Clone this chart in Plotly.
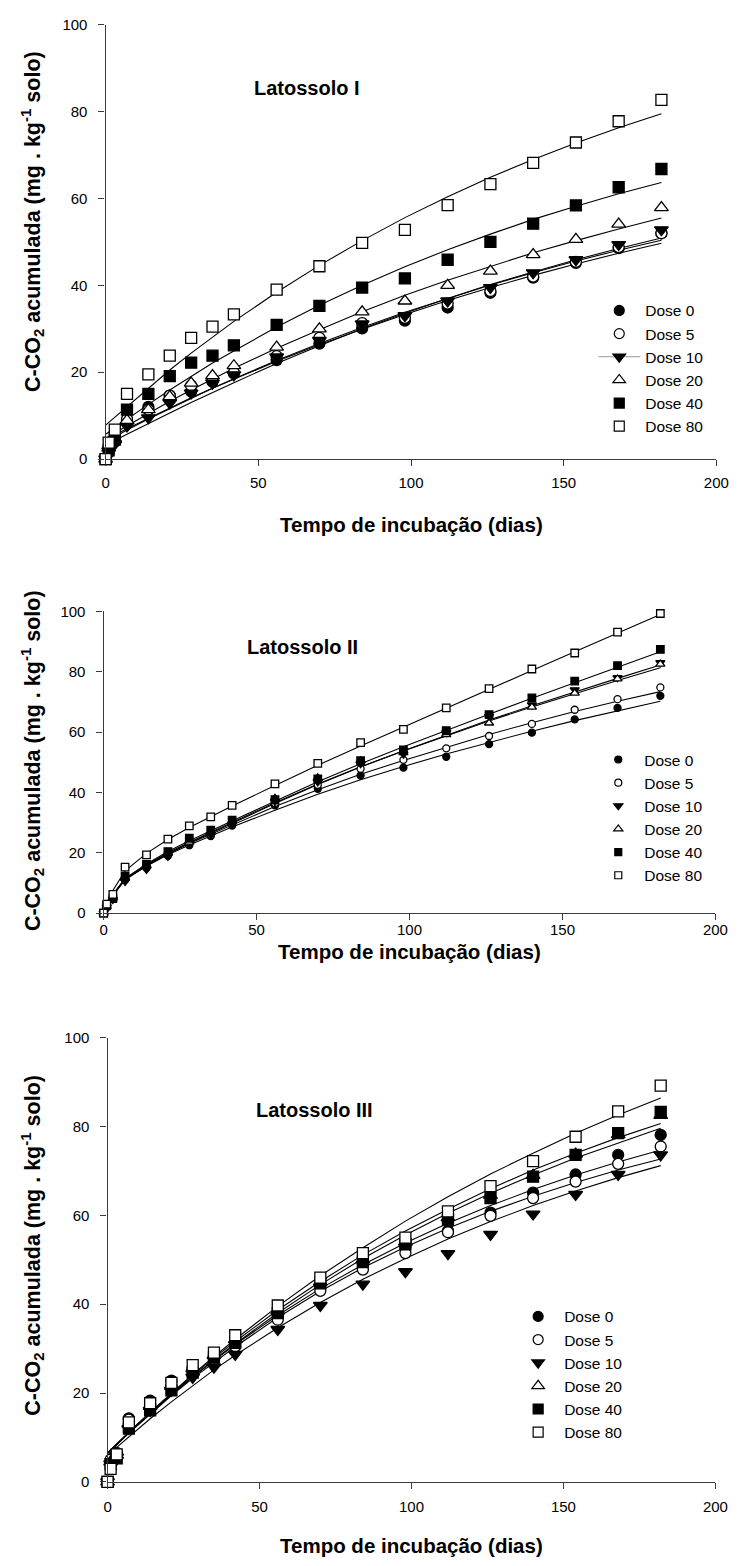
import plotly.graph_objects as go

W, H = 746, 1566

# ---------------- data ----------------
T = [0, 1, 3, 7, 14, 21, 28, 35, 42, 56, 70, 84, 98, 112, 126, 140, 154, 168, 182]
DOSES = ["Dose 0", "Dose 5", "Dose 10", "Dose 20", "Dose 40", "Dose 80"]

# Latossolo I - observed
L1_D0 = [0, 2.5, 4.0, 9.0, 12.0, 14.6, 15.6, 17.8, 19.7, 22.8, 26.6, 30.1, 31.9, 34.9, 38.3, 41.8, 45.2, 48.6, 52.0]
L1_D5 = [0, 2.8, 4.8, 9.2, 11.4, 14.6, 16.9, 18.0, 19.9, 23.7, 27.9, 31.3, 32.5, 35.8, 38.7, 42.0, 45.4, 48.8, 52.0]
L1_D10 = [0, 1.8, 3.5, 7.6, 9.5, 12.9, 15.2, 17.5, 19.4, 23.5, 27.3, 31.1, 33.0, 36.4, 39.5, 42.9, 45.9, 49.4, 52.8]
L1_D20 = [0, 2.5, 4.5, 8.9, 11.4, 14.4, 17.5, 19.2, 21.5, 25.8, 30.0, 33.9, 36.4, 40.0, 43.3, 47.1, 50.6, 54.1, 57.9]
L1_D40 = [0, 2.0, 4.5, 11.4, 15.0, 19.1, 22.2, 23.8, 26.2, 30.9, 35.3, 39.5, 41.6, 45.9, 50.0, 54.2, 58.4, 62.6, 66.8]
L1_D80 = [0, 3.8, 6.8, 15.0, 19.5, 23.8, 27.9, 30.5, 33.3, 39.0, 44.4, 49.8, 52.8, 58.5, 63.3, 68.2, 72.9, 77.8, 82.7]
# Latossolo I - fitted curves
L1_F0 = [4.5, 4.9, 5.6, 7.0, 9.4, 11.8, 14.1, 16.3, 18.4, 22.5, 26.3, 29.9, 33.3, 36.5, 39.5, 42.3, 44.9, 47.4, 49.7]
L1_F5 = [4.0, 4.4, 5.2, 6.7, 9.2, 11.6, 14.0, 16.3, 18.5, 22.7, 26.6, 30.3, 33.8, 37.0, 40.1, 42.9, 45.6, 48.1, 50.4]
L1_F10 = [3.3, 3.6, 4.3, 5.7, 8.2, 10.6, 13.0, 15.3, 17.6, 22.0, 26.1, 30.0, 33.6, 37.0, 40.2, 43.1, 45.9, 48.5, 50.9]
L1_F20 = [4.8, 5.2, 6.1, 7.7, 10.5, 13.3, 15.9, 18.4, 20.9, 25.5, 29.8, 33.9, 37.7, 41.2, 44.4, 47.5, 50.3, 53.0, 55.5]
L1_F40 = [5.7, 6.2, 7.2, 9.2, 12.6, 15.9, 19.1, 22.1, 24.9, 30.4, 35.4, 40.0, 44.3, 48.2, 51.8, 55.2, 58.2, 61.1, 63.7]
L1_F80 = [7.8, 8.4, 9.7, 12.2, 16.4, 20.5, 24.4, 28.1, 31.7, 38.4, 44.6, 50.3, 55.6, 60.4, 64.9, 69.0, 72.8, 76.3, 79.5]

# Latossolo II - observed
L2_D0 = [0, 2.0, 5.0, 11.0, 15.0, 19.0, 22.5, 25.5, 29.0, 35.7, 41.2, 45.6, 48.2, 51.8, 56.0, 59.8, 64.2, 68.0, 72.0]
L2_D5 = [0, 2.0, 5.0, 11.5, 15.5, 19.5, 23.0, 26.0, 29.5, 36.5, 42.5, 47.8, 50.8, 54.6, 58.7, 62.7, 67.4, 70.9, 74.8]
L2_D10 = [0, 2.0, 4.5, 10.5, 14.5, 18.8, 22.8, 26.0, 29.5, 37.0, 43.5, 49.5, 52.7, 59.8, 65.2, 69.0, 74.0, 78.0, 83.0]
L2_D20 = [0, 2.2, 5.0, 11.5, 15.8, 20.0, 23.5, 26.8, 30.5, 38.0, 44.8, 50.5, 53.2, 59.2, 63.0, 68.3, 72.9, 77.6, 82.5]
L2_D40 = [0, 2.4, 4.8, 12.2, 16.1, 20.4, 24.8, 27.5, 30.8, 37.6, 44.5, 50.5, 54.1, 60.5, 65.8, 71.3, 76.9, 82.0, 87.4]
L2_D80 = [0, 3.0, 6.2, 15.2, 19.3, 24.5, 28.9, 31.9, 35.7, 42.8, 49.6, 56.5, 60.9, 68.0, 74.4, 80.9, 86.2, 93.1, 99.3]
# Latossolo II - fitted curves
L2_F0 = [0.3, 2.7, 6.0, 11.2, 15.6, 19.3, 22.6, 25.6, 28.5, 34.1, 39.4, 44.2, 48.6, 52.7, 56.6, 60.3, 63.8, 67.1, 70.2]
L2_F5 = [0.3, 2.7, 6.0, 11.3, 15.8, 19.7, 23.1, 26.2, 29.2, 35.3, 40.9, 46.0, 50.6, 55.0, 59.2, 63.1, 66.8, 70.2, 73.4]
L2_F10 = [0.3, 2.6, 5.8, 11.0, 15.6, 19.6, 23.2, 26.5, 29.8, 36.3, 42.6, 48.4, 53.8, 59.0, 64.0, 68.7, 73.3, 77.8, 82.2]
L2_F20 = [0.3, 2.7, 6.0, 11.3, 16.0, 20.0, 23.5, 26.8, 30.0, 36.6, 42.8, 48.5, 53.7, 58.8, 63.7, 68.3, 72.8, 77.1, 81.3]
L2_F40 = [0.3, 2.8, 6.2, 11.5, 16.3, 20.4, 24.0, 27.3, 30.5, 37.1, 43.5, 49.5, 55.1, 60.6, 65.9, 71.2, 76.4, 81.5, 86.6]
L2_F80 = [0.3, 3.3, 7.5, 14.0, 19.8, 24.4, 28.4, 32.0, 35.5, 42.3, 49.0, 55.4, 61.7, 67.9, 74.1, 80.4, 86.6, 92.8, 99.0]

# Latossolo III - observed
L3_D0 = [0, 4.5, 6.5, 14.3, 18.3, 22.8, 25.2, 28.5, 31.5, 37.7, 44.3, 49.0, 53.0, 56.5, 60.6, 65.1, 69.2, 73.6, 78.1]
L3_D5 = [0, 5.0, 6.0, 14.0, 17.5, 21.5, 24.5, 27.5, 30.5, 36.5, 43.0, 47.8, 51.5, 56.2, 59.9, 63.9, 67.6, 71.6, 75.5]
L3_D10 = [0, 4.0, 5.5, 12.0, 16.1, 20.6, 23.5, 25.8, 28.7, 34.3, 39.7, 44.5, 47.3, 51.4, 55.7, 60.3, 64.7, 69.2, 73.6]
L3_D20 = [0, 4.5, 6.0, 13.0, 17.0, 21.5, 25.5, 28.5, 32.0, 38.5, 45.0, 50.0, 54.0, 59.5, 64.5, 69.0, 73.8, 78.2, 82.5]
L3_D40 = [0, 4.0, 5.3, 12.0, 16.1, 20.6, 24.6, 28.0, 31.3, 38.0, 44.7, 49.5, 53.5, 59.0, 63.9, 68.7, 73.6, 78.5, 83.3]
L3_D80 = [0, 2.9, 6.2, 13.4, 17.7, 22.3, 26.3, 29.1, 33.0, 39.7, 46.0, 51.5, 55.0, 60.9, 66.6, 72.2, 77.7, 83.4, 89.2]
# Latossolo III - fitted curves
L3_F0 = [6.5, 7.2, 8.5, 11.1, 15.5, 19.6, 23.6, 27.3, 30.9, 37.5, 43.5, 48.9, 53.8, 58.2, 62.2, 65.8, 69.1, 72.0, 74.7]
L3_F5 = [6.5, 7.1, 8.4, 11.0, 15.3, 19.4, 23.3, 26.9, 30.4, 37.0, 42.9, 48.2, 52.9, 57.1, 60.9, 64.3, 67.4, 70.2, 72.7]
L3_F10 = [6.0, 6.6, 7.8, 10.2, 14.2, 18.0, 21.7, 25.2, 28.5, 34.7, 40.4, 45.6, 50.3, 54.7, 58.6, 62.2, 65.5, 68.5, 71.2]
L3_F20 = [6.3, 7.0, 8.3, 11.0, 15.3, 19.6, 23.6, 27.5, 31.1, 38.0, 44.4, 50.3, 55.6, 60.5, 65.0, 69.1, 72.9, 76.3, 79.6]
L3_F40 = [6.5, 7.2, 8.5, 11.2, 15.6, 19.9, 24.0, 27.9, 31.6, 38.7, 45.1, 51.1, 56.5, 61.4, 66.0, 70.2, 74.0, 77.5, 80.7]
L3_F80 = [6.5, 7.2, 8.5, 11.2, 15.7, 20.0, 24.2, 28.2, 32.1, 39.5, 46.4, 52.7, 58.7, 64.2, 69.3, 74.0, 78.5, 82.6, 86.4]

TITLES = ["Latossolo I", "Latossolo II", "Latossolo III"]
X_TICKS = [0, 50, 100, 150, 200]
Y_TICKS = [0, 20, 40, 60, 80, 100]
X_TITLE = "Tempo de incubação (dias)"
Y_TITLE = "C-CO<sub>2</sub> acumulada (mg . kg<sup>-1</sup> solo)"

# ---------------- styling ----------------
FONT = "Arial, Liberation Sans, sans-serif"
SYMBOLS = ["circle", "circle", "triangle-down", "triangle-up", "square", "square"]
FILLS = ["black", "white", "black", "white", "black", "white"]

panels = [
    dict(obs=[L1_D0, L1_D5, L1_D10, L1_D20, L1_D40, L1_D80],
         fit=[L1_F0, L1_F5, L1_F10, L1_F20, L1_F40, L1_F80],
         xpx=(104, 729), ypx=(455, 16), msize=[11, 11, 12, 12, 11, 11], lsize=[10, 10, 11, 11, 10, 10],
         title_xy=(310, 80), xtitle_y=521, ytitle_y=215, xstand=4,
         legend=(603, 288)),
    dict(obs=[L2_D0, L2_D5, L2_D10, L2_D20, L2_D40, L2_D80],
         fit=[L2_F0, L2_F5, L2_F10, L2_F20, L2_F40, L2_F80],
         xpx=(102, 728), ypx=(914, 609), msize=[7, 7, 8, 8, 7.5, 7.5], lsize=[7, 7, 8, 8, 7, 7],
         title_xy=(305, 645), xtitle_y=953, ytitle_y=760, xstand=-3,
         legend=(602, 742)),
    dict(obs=[L3_D0, L3_D5, L3_D10, L3_D20, L3_D40, L3_D80],
         fit=[L3_F0, L3_F5, L3_F10, L3_F20, L3_F40, L3_F80],
         xpx=(106, 728), ypx=(1489, 1040), msize=[11, 11, 12, 12, 11, 11], lsize=[10, 10, 11, 11, 10, 10],
         title_xy=(318, 1113), xtitle_y=1553, ytitle_y=1250, xstand=5,
         legend=(520, 1305)),
]

fig = go.Figure()
annotations = []
layout_axes = {}

for i, p in enumerate(panels):
    n = "" if i == 0 else str(i + 1)
    xa, ya = "x" + n, "y" + n
    leg = "legend" + n
    # fitted lines
    for f in p["fit"]:
        fig.add_trace(go.Scatter(x=T, y=f, mode="lines", xaxis=xa, yaxis=ya,
                                 line=dict(color="black", width=1.1), showlegend=False,
                                 hoverinfo="skip", cliponaxis=False))
    # observed points
    for k, o in enumerate(p["obs"]):
        fig.add_trace(go.Scatter(x=T, y=o, mode="markers", xaxis=xa, yaxis=ya, name=DOSES[k],
                                 marker=dict(symbol=SYMBOLS[k], size=p["msize"][k], color=FILLS[k],
                                             line=dict(color="black", width=1.3)),
                                 showlegend=False, cliponaxis=False))
    # legend entries
    for k in range(6):
        mode = "markers"
        extra = {}
        if i == 0 and k == 2:
            mode = "lines+markers"
            extra = dict(line=dict(color="#9a9a9a", width=1))
        fig.add_trace(go.Scatter(x=[None], y=[None], mode=mode, xaxis=xa, yaxis=ya, name=DOSES[k],
                                 marker=dict(symbol=SYMBOLS[k], size=p["lsize"][k], color=FILLS[k],
                                             line=dict(color="black", width=1.2)),
                                 legend=leg, showlegend=True, **extra))
    x0, x1 = p["xpx"]
    yb, yt = p["ypx"]
    axstyle = dict(showline=True, linecolor="#3a3a3a", linewidth=1.4, ticks="outside", ticklen=6,
                   tickwidth=1.2, tickcolor="#3a3a3a", showgrid=False, zeroline=False,
                   tickfont=dict(family=FONT, size=15, color="black"))
    layout_axes["xaxis" + n] = dict(domain=[x0 / W, x1 / W], range=[0, 200], tickvals=X_TICKS,
                                    anchor=ya, ticklabelstandoff=p["xstand"], **axstyle)
    layout_axes["yaxis" + n] = dict(domain=[1 - yb / H, 1 - yt / H], range=[0, 100], tickvals=Y_TICKS,
                                    anchor=xa, ticklabelstandoff=8, **axstyle)
    lx, ly = p["legend"]
    layout_axes[leg] = dict(x=lx / W, y=1 - ly / H, xanchor="left", yanchor="top",
                            bgcolor="rgba(0,0,0,0)", borderwidth=0, itemwidth=42,
                            font=dict(family=FONT, size=15.5, color="black"),
                            tracegroupgap=0)
    tx, ty = p["title_xy"]
    annotations.append(dict(text="<b>%s</b>" % TITLES[i], x=tx / W, y=1 - ty / H, xref="paper", yref="paper",
                            showarrow=False, xanchor="center", yanchor="middle",
                            font=dict(family=FONT, size=20, color="black")))
    annotations.append(dict(text="<b>%s</b>" % X_TITLE, x=((x0 + x1) / 2) / W, y=1 - p["xtitle_y"] / H,
                            xref="paper", yref="paper", showarrow=False, xanchor="center", yanchor="middle",
                            font=dict(family=FONT, size=20.5, color="black")))
    annotations.append(dict(text="<b>%s</b>" % Y_TITLE, x=29 / W, y=1 - p["ytitle_y"] / H,
                            xref="paper", yref="paper", showarrow=False, xanchor="center", yanchor="middle",
                            textangle=-90, font=dict(family=FONT, size=21.5, color="black")))

fig.update_layout(width=W, height=H, margin=dict(l=0, r=0, t=0, b=0), autosize=False,
                  paper_bgcolor="white", plot_bgcolor="white", annotations=annotations,
                  font=dict(family=FONT, color="black"), **layout_axes)

fig.write_html("out.html")
